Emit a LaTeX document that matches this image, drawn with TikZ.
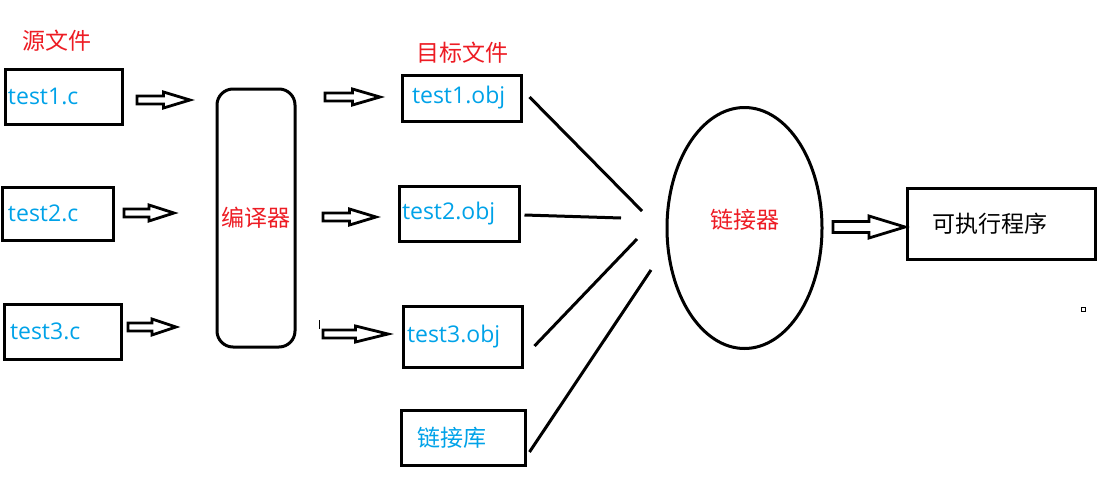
\documentclass[tikz,border=0pt]{standalone}
\usepackage{fontspec}
\setmainfont{Open Sans}
\newfontfamily\cjk{Noto Sans CJK SC}
\usetikzlibrary{calc, shapes.geometric}

% Hollow block arrow between two named coordinates: #1 tail, #2 tip, #3 half shaft, #4 half head
\newcommand{\fatArrow}[4]{%
  \draw[blockArrow] ($(#1)+(0,#3)$) -- ($(#1)!0.5!(#2)+(0,#3)$) -- ($(#1)!0.5!(#2)+(0,#4)$)
    -- (#2) -- ($(#1)!0.5!(#2)+(0,-#4)$) -- ($(#1)!0.5!(#2)+(0,-#3)$) -- ($(#1)+(0,-#3)$) -- cycle;}

\begin{document}
\begin{tikzpicture}[x=1pt, y=-1pt]
  % Define colours
  \definecolor{labelRed}{HTML}{ED1C24}
  \definecolor{fileBlue}{HTML}{00A2E8}

  % Styles
  \tikzset{
    fileBox/.style={draw, line width=3pt, inner ysep=0pt, align=left, text=fileBlue,
      font=\fontsize{23}{27}\selectfont},
    headLabel/.style={text=labelRed, font=\cjk\fontsize{23}{27}\selectfont},
    blockArrow/.style={line width=2.8pt, line join=miter},
    linkLine/.style={line width=3pt}
  }

  % Fix the canvas to the reference size
  \useasboundingbox (0,0) rectangle (1105,479);

  % Column headings
  \node[headLabel] (srcTitle) at (56.5,41) {源文件};
  \node[headLabel] (objTitle) at (462.5,53) {目标文件};

  % Source files
  \node[fileBox, minimum height=55pt, text width=111pt, inner xsep=3pt] (src1) at (63.5,96.5) {test1.c};
  \node[fileBox, minimum height=53pt, text width=99pt, inner xsep=6pt] (src2) at (57.5,213.5) {test2.c};
  \node[fileBox, minimum height=55pt, text width=105pt, inner xsep=6pt] (src3) at (62.5,331.5) {test3.c};

  % Compiler
  \node[draw, line width=3pt, rounded corners=16pt, minimum width=78pt, minimum height=258pt,
        headLabel] (compiler) at (256,218) {编译器};

  % Object files and library
  \node[fileBox, minimum height=46pt, text width=99pt, inner xsep=10pt] (obj1) at (461.5,98) {test1.obj};
  \node[fileBox, minimum height=55pt, text width=114pt, inner xsep=3pt] (obj2) at (459,213.5) {test2.obj};
  \node[fileBox, minimum height=61pt, text width=111pt, inner xsep=4pt] (obj3) at (462.5,336.5) {test3.obj};
  \node[fileBox, minimum height=55pt, text width=92pt, inner xsep=16pt, font=\cjk\fontsize{23}{27}\selectfont]
        (lib) at (463,437.5) {链接库};

  % Linker
  \node[draw, ellipse, line width=3pt, minimum width=155pt, minimum height=241pt,
        label={[headLabel, yshift=8pt]center:链接器}] (linker) at (744.5,228) {};

  % Executable
  \node[draw, line width=3pt, minimum width=188pt, minimum height=71pt, text width=138pt,
        inner xsep=25pt, align=left, font=\cjk\fontsize{23}{27}\selectfont] (exe) at (1001,223.5) {可执行程序};

  % Arrow end points
  \coordinate (a1s) at (137,100); \coordinate (a1e) at (190,100);
  \coordinate (a2s) at (124,213); \coordinate (a2e) at (174,213);
  \coordinate (a3s) at (128,327); \coordinate (a3e) at (176,327);
  \coordinate (b1s) at (325,97);  \coordinate (b1e) at (380,97);
  \coordinate (b2s) at (323,217); \coordinate (b2e) at (376,217);
  \coordinate (b3s) at (323,334); \coordinate (b3e) at (388,334);
  \coordinate (cs) at (833,227);  \coordinate (ce) at (905,227);

  % Draw the block arrows
  \fatArrow{a1s}{a1e}{4}{8}
  \fatArrow{a2s}{a2e}{4}{8}
  \fatArrow{a3s}{a3e}{4}{8}
  \fatArrow{b1s}{b1e}{4}{8}
  \fatArrow{b2s}{b2e}{4}{8}
  \fatArrow{b3s}{b3e}{4}{8}
  \fatArrow{cs}{ce}{5.5}{11}

  % Lines into the linker
  \coordinate (l1) at (642,211);
  \coordinate (l2) at (621,218);
  \coordinate (l3) at (637,239);
  \coordinate (l4) at (651,270);
  \draw[linkLine] ($(obj1.east)+(7,-1)$) -- (l1);
  \draw[linkLine] ($(obj2.east)+(4,1.5)$) -- (l2);
  \draw[linkLine] ($(obj3.east)+(11,9.5)$) -- (l3);
  \draw[linkLine] ($(lib.east)+(3,14.5)$) -- (l4);

  % Stray marks
  \draw[line width=1pt] (319,320) -- (319,329);
  \draw[line width=1pt] (1081,307) rectangle (1085,311);
\end{tikzpicture}
\end{document}
